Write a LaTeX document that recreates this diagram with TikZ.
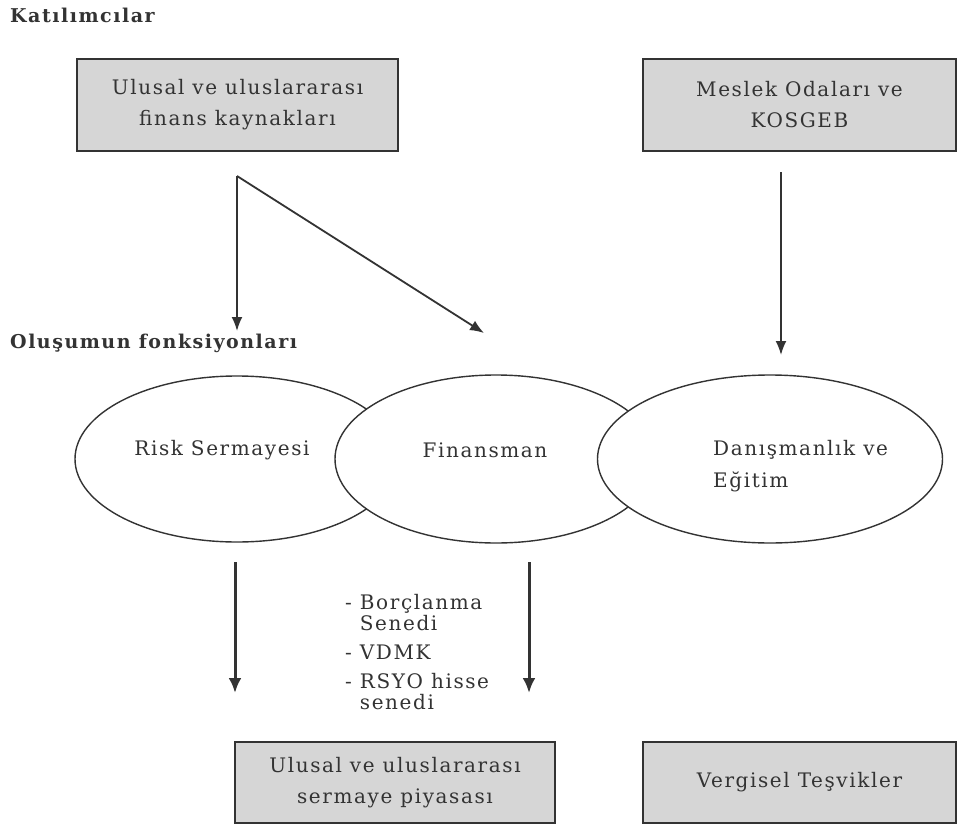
\documentclass[tikz,border=0pt]{standalone}
\usepackage{fontspec}
\setmainfont{DejaVu Serif}[LetterSpace=8]
\usetikzlibrary{arrows.meta,shapes.geometric}
\definecolor{ink}{HTML}{333333}
\definecolor{boxgray}{HTML}{D6D6D6}
\begin{document}
\begin{tikzpicture}[x=1pt,y=-1pt,
  every node/.style={text=ink},
  graybox/.style={draw=ink,line width=1.8pt,fill=boxgray,inner sep=0pt,align=center,
    font=\fontsize{20}{31}\selectfont},
  oval/.style={ellipse,draw=ink,line width=1.4pt,fill=white,inner sep=0pt},
  otext/.style={font=\fontsize{20}{32}\selectfont,inner sep=0pt},
  head/.style={font=\bfseries\fontsize{19}{20}\selectfont,anchor=west,inner sep=0pt},
  thinarrow/.style={draw=ink,line width=1.8pt,-{Latex[length=14pt,width=11pt]}},
  thickarrow/.style={draw=ink,line width=3pt,-{Latex[length=15pt,width=13pt]}},
  listtxt/.style={font=\fontsize{20}{21}\selectfont,align=left,anchor=north west,inner sep=0pt}
]
\useasboundingbox (0,0) rectangle (959,835);
\fill[white] (0,0) rectangle (959,835);

\node[head] (kat) at (10,15) {Katılımcılar};
\node[head] (olu) at (10,343) {Oluşumun fonksiyonları};

\node[graybox,minimum width=321pt,minimum height=92pt] (b1) at (237.5,105)
  {Ulusal ve uluslararası\\finans kaynakları};
\node[graybox,minimum width=313pt,minimum height=92pt] (b2) at (799.5,105)
  {Meslek Odaları ve\\KOSGEB};
\node[graybox,minimum width=320pt,minimum height=81pt] (b3) at (395,782.5)
  {Ulusal ve uluslararası\\sermaye piyasası};
\node[graybox,minimum width=313pt,minimum height=81pt] (b4) at (799.5,782.5)
  {Vergisel Teşvikler};

\node[oval,minimum width=324pt,minimum height=166pt] (e1) at (237,459) {};
\node[oval,minimum width=322pt,minimum height=168pt] (e2) at (496,459) {};
\node[oval,minimum width=345pt,minimum height=168pt] (e3) at (770,459) {};

\node[otext] (t1) at (222,450) {Risk Sermayesi};
\node[otext] (t2) at (485,450) {Finansman};
\node[otext,align=left,anchor=west] (t3) at (713,466)
  {Danışmanlık ve\\Eğitim};

\coordinate (s1) at (237,176);
\coordinate (a1) at (237,331);
\coordinate (a2) at (484,333);
\coordinate (s3) at (781,172);
\coordinate (a3) at (781,355);
\coordinate (s4) at (235,562);
\coordinate (a4) at (235,693);
\coordinate (s5) at (529,562);
\coordinate (a5) at (529,693);

\draw[thinarrow] (s1) -- (a1);
\draw[thinarrow] (s1) -- (a2);
\draw[thinarrow] (s3) -- (a3);
\draw[thickarrow] (s4) -- (a4);
\draw[thickarrow] (s5) -- (a5);

\node[listtxt] (lst) at (345,594)
  {- Borçlanma\\\hphantom{- }Senedi\\[8pt]- VDMK\\[8pt]- RSYO hisse\\\hphantom{- }senedi};
\end{tikzpicture}
\end{document}
